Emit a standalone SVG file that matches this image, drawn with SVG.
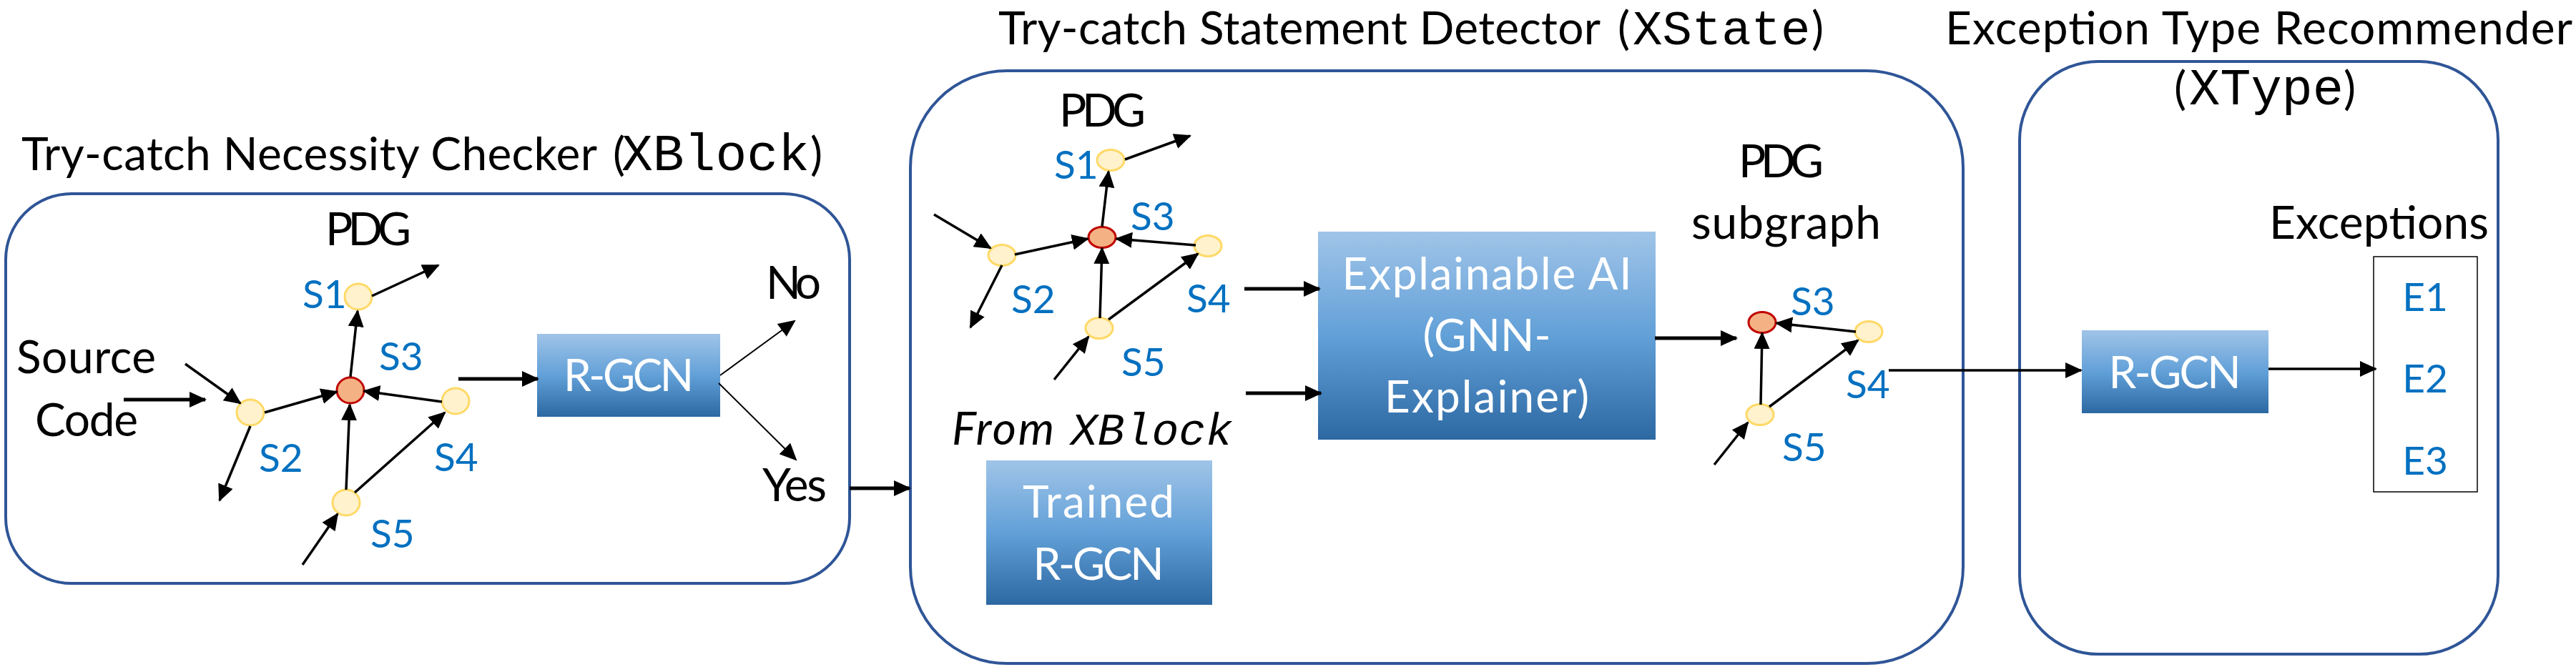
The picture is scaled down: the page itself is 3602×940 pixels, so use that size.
<svg xmlns="http://www.w3.org/2000/svg" width="3602" height="940" viewBox="0 0 3602 940">
<style>
.f{font-family:Lato,"Liberation Sans",sans-serif}
.m{font-family:"Liberation Mono","Courier New",monospace}
.t{font-size:64px;fill:#000}
.w{font-size:62px;fill:#fff}
.s{font-size:55px;fill:#0070C0}
.box{fill:#fff;stroke:#2F5597;stroke-width:4}
.grad{fill:url(#g)}
.nd{fill:#FFF2CC;stroke:#FFD966;stroke-width:3}
.rd{fill:#F4B183;stroke:#C00000;stroke-width:3}
.e{stroke:#000;stroke-width:3.5;fill:none;marker-end:url(#ah)}
.k{stroke:#000;stroke-width:5;fill:none;marker-end:url(#ah)}
.n{stroke:#000;stroke-width:2;fill:none;marker-end:url(#ah)}
</style>
<defs>
<linearGradient id="g" x1="0" y1="0" x2="0" y2="1">
<stop offset="0" stop-color="#A0C4E8"/>
<stop offset="0.5" stop-color="#62A0D8"/>
<stop offset="1" stop-color="#2C68A2"/>
</linearGradient>
<marker id="ah" markerUnits="userSpaceOnUse" markerWidth="26" markerHeight="24" refX="22" refY="11" orient="auto">
<path d="M0,0 L24,11 L0,22 Z" fill="#000"/>
</marker>
</defs>

<g id="xblock">
<rect class="box" x="8" y="271" width="1180" height="545" rx="92"/>
<text class="f t" x="30" y="238"><tspan textLength="805">Try-catch Necessity Checker</tspan><tspan x="857">(</tspan><tspan class="m" x="869" font-size="73">XBlock</tspan><tspan x="1133">)</tspan></text>
<text class="f t" x="455" y="343" textLength="120">PDG</text>
<text class="f t" x="23" y="522" textLength="195">Source</text>
<text class="f t" x="49" y="610" textLength="144">Code</text>
<text class="f t" x="1071" y="418" textLength="77">No</text>
<text class="f t" x="1066" y="701" textLength="90">Yes</text>
</g>
<g id="xblock-rgcn">
<rect class="grad" x="751" y="467" width="256" height="116"/>
<text class="f w" x="879" y="547" text-anchor="middle" textLength="182">R-GCN</text>
</g>
<g id="xblock-pdg">
<ellipse class="nd" cx="501" cy="415" rx="19" ry="18"/>
<ellipse class="rd" cx="490" cy="546" rx="19" ry="18"/>
<ellipse class="nd" cx="350" cy="577" rx="19" ry="18"/>
<ellipse class="nd" cx="637" cy="561" rx="19" ry="18"/>
<ellipse class="nd" cx="484" cy="703" rx="19" ry="18"/>
<text class="f s" x="423" y="431">S1</text>
<text class="f s" x="530" y="518">S3</text>
<text class="f s" x="362" y="660">S2</text>
<text class="f s" x="607" y="659">S4</text>
<text class="f s" x="518" y="766">S5</text>
</g>

<g id="xstate">
<rect class="box" x="1273" y="99" width="1472" height="829" rx="135"/>
<text class="f t" x="1396" y="62"><tspan textLength="842">Try-catch Statement Detector</tspan><tspan x="2262">(</tspan><tspan class="m" x="2283" font-size="69">XState</tspan><tspan x="2533">)</tspan></text>
<text class="f t" x="1481" y="177" textLength="121">PDG</text>
<text class="f t" x="2431" y="248" textLength="119">PDG</text>
<text class="f t" x="2365" y="334" textLength="265">subgraph</text>
<text class="f t" x="1331" y="622"><tspan font-style="italic" textLength="143">From</tspan><tspan class="m" x="1497" font-size="63" font-style="italic">XBlock</tspan></text>
</g>
<g id="xstate-pdg">
<ellipse class="nd" cx="1553" cy="224" rx="19" ry="14.5"/>
<ellipse class="rd" cx="1541" cy="332" rx="19" ry="14.5"/>
<ellipse class="nd" cx="1401" cy="357" rx="19" ry="14.5"/>
<ellipse class="nd" cx="1689" cy="344" rx="19" ry="14.5"/>
<ellipse class="nd" cx="1537" cy="459" rx="19" ry="14.5"/>
<text class="f s" x="1474" y="250">S1</text>
<text class="f s" x="1581" y="322">S3</text>
<text class="f s" x="1414" y="438">S2</text>
<text class="f s" x="1659" y="437">S4</text>
<text class="f s" x="1568" y="526">S5</text>
</g>
<g id="xstate-explainer">
<rect class="grad" x="1843" y="324" width="472" height="291"/>
<text class="f w" x="2079" y="405" text-anchor="middle" textLength="405">Explainable AI</text>
<text class="f w" x="2079" y="491" text-anchor="middle" textLength="179">(GNN-</text>
<text class="f w" x="2079" y="577" text-anchor="middle" textLength="286">Explainer)</text>
</g>
<g id="xstate-trained">
<rect class="grad" x="1379" y="644" width="316" height="202"/>
<text class="f w" x="1536" y="724" text-anchor="middle" textLength="212">Trained</text>
<text class="f w" x="1536" y="811" text-anchor="middle" textLength="183">R-GCN</text>
</g>
<g id="xstate-subgraph">
<ellipse class="rd" cx="2464" cy="451" rx="19" ry="14.5"/>
<ellipse class="nd" cx="2613" cy="464" rx="19" ry="14.5"/>
<ellipse class="nd" cx="2461" cy="580" rx="19" ry="14.5"/>
<text class="f s" x="2504" y="441">S3</text>
<text class="f s" x="2581" y="557">S4</text>
<text class="f s" x="2492" y="645">S5</text>
</g>

<g id="xtype">
<rect class="box" x="2824" y="86" width="669" height="829" rx="110"/>
<text class="f t" x="2720" y="62" textLength="877">Exception Type Recommender</text>
<text class="f t" x="3040" y="146">(<tspan class="m" x="3061" font-size="72">XType</tspan><tspan x="3277">)</tspan></text>
<text class="f t" x="3173" y="334" textLength="307">Exceptions</text>
</g>
<g id="xtype-rgcn">
<rect class="grad" x="2911" y="462" width="261" height="116"/>
<text class="f w" x="3041" y="543" text-anchor="middle" textLength="185">R-GCN</text>
</g>
<g id="xtype-exceptions">
<rect x="3319" y="359" width="145" height="329" fill="#fff" stroke="#000" stroke-width="1.5"/>
<text class="f s" x="3391" y="435" text-anchor="middle">E1</text>
<text class="f s" x="3391" y="549" text-anchor="middle">E2</text>
<text class="f s" x="3391" y="664" text-anchor="middle">E3</text>
</g>

<g id="connectors">
<path class="k" d="M173,559 L287,559"/>
<path class="e" d="M259,509 L336,564"/>
<path class="e" d="M370,577 L471,548"/>
<path class="e" d="M618,562 L509,547"/>
<path class="e" d="M484,685 L489,566"/>
<path class="e" d="M496,689 L622,577"/>
<path class="e" d="M490,527 L500,435"/>
<path class="e" d="M520,414 L613,371"/>
<path class="e" d="M350,596 L307,700"/>
<path class="e" d="M423,790 L472,719"/>
<path class="k" d="M641,530 L752,530"/>
<path class="n" d="M1007,525 L1111,449"/>
<path class="n" d="M1005,536 L1113,643"/>
<path class="k" d="M1188,683 L1272,683"/>
<path class="e" d="M1306,300 L1385,347"/>
<path class="e" d="M1419,356 L1521,334"/>
<path class="e" d="M1672,343 L1561,334"/>
<path class="e" d="M1541,317 L1550,240"/>
<path class="e" d="M1538,445 L1541,347"/>
<path class="e" d="M1550,447 L1675,355"/>
<path class="e" d="M1401,371 L1357,458"/>
<path class="e" d="M1474,531 L1522,471"/>
<path class="e" d="M1573,223 L1664,190"/>
<path class="k" d="M1740,404 L1845,404"/>
<path class="k" d="M1742,550 L1847,550"/>
<path class="k" d="M2314,473 L2428,473"/>
<path class="e" d="M2595,464 L2484,452"/>
<path class="e" d="M2462,566 L2464,466"/>
<path class="e" d="M2474,569 L2598,476"/>
<path class="e" d="M2397,650 L2444,591"/>
<path class="e" d="M2641,518 L2910,518"/>
<path class="e" d="M3172,516 L3322,516"/>
</g>
</svg>
